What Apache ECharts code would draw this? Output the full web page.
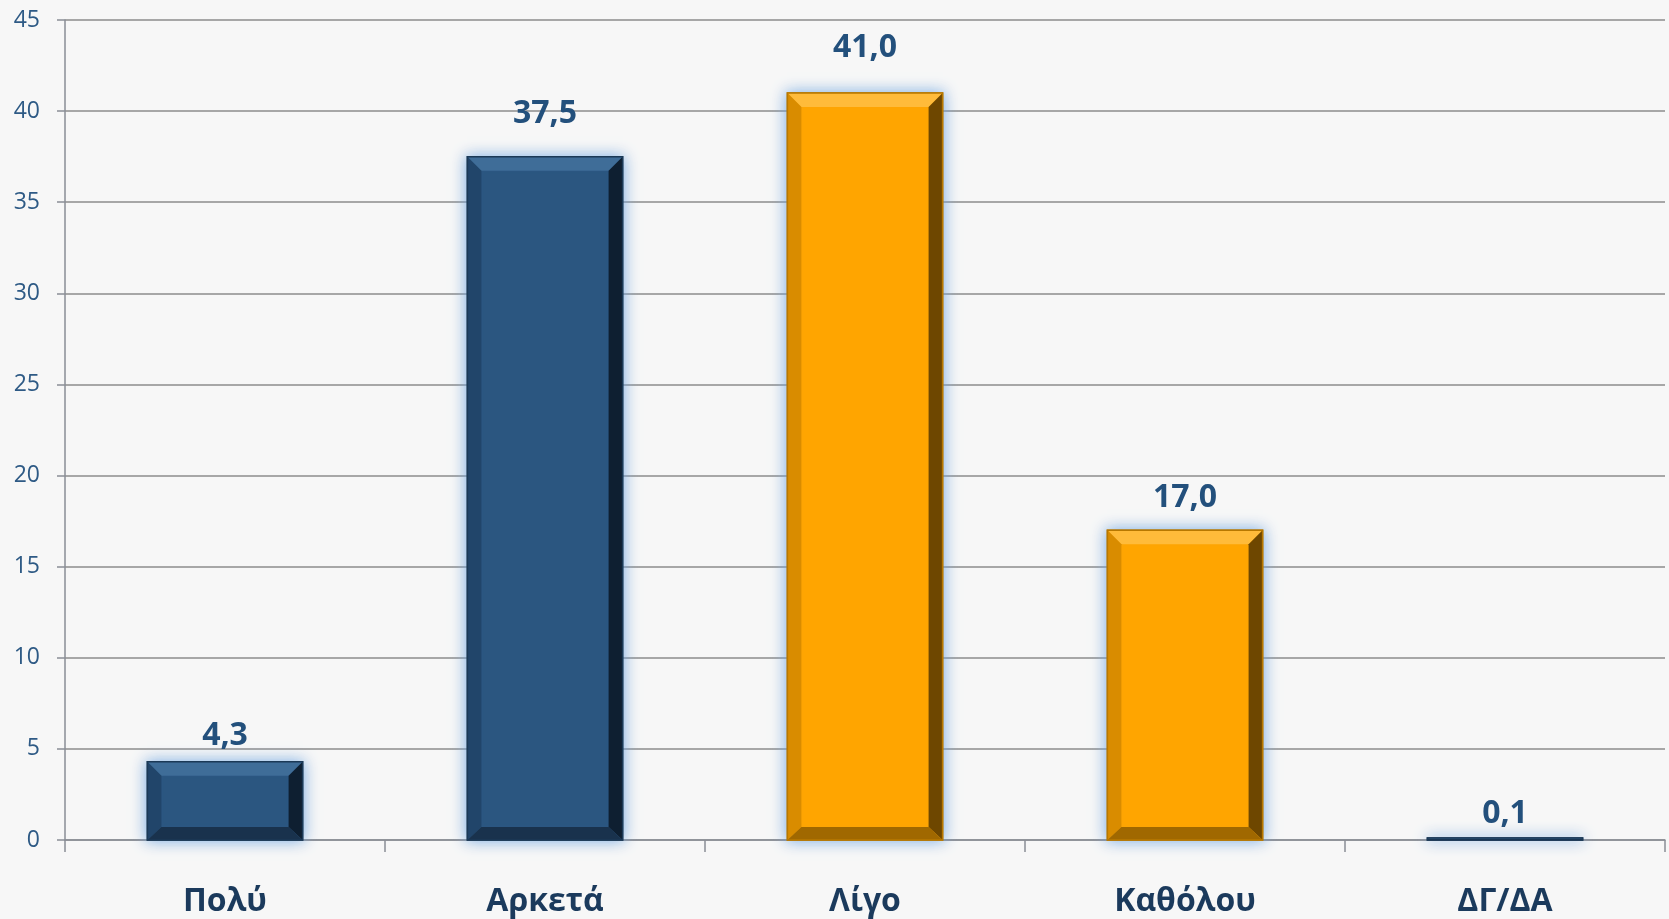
<!DOCTYPE html>
<html><head><meta charset="utf-8">
<script src="https://cdn.jsdelivr.net/npm/echarts@6/dist/echarts.min.js"></script>
<style>html,body{margin:0;padding:0;background:#f7f7f7}#c{width:1669px;height:919px}</style>
</head><body><div id="c"></div>
<script>
const categories = ['Πολύ', 'Αρκετά', 'Λίγο', 'Καθόλου', 'ΔΓ/ΔΑ'];
const values = [4.3, 37.5, 41.0, 17.0, 0.1];
const colorGroup = ['blue', 'blue', 'orange', 'orange', 'blue'];
const yTicks = [0, 45, 5];

const palettes = {
  blue:   {fill:'#2b5680', top:'#3f6d98', left:'#21456a', right:'#0e1f31', bottom:'#19324d', edge:'#1b3956', glow:'rgba(110,165,225,0.9)'},
  orange: {fill:'#ffa500', top:'#ffbb3a', left:'#d98c00', right:'#6e4700', bottom:'#a06800', edge:'#b87800', glow:'rgba(110,165,225,0.9)'}
};
const FONT = '"Open Sans","Noto Sans",sans-serif';

const chart = echarts.init(document.getElementById('c'), null, {renderer:'canvas'});
chart.setOption({
  backgroundColor:'#f7f7f7',
  animation:false,
  grid:{left:65, right:4, top:20, bottom:79, containLabel:false},
  xAxis:{type:'category', data:categories, boundaryGap:true,
    axisLine:{lineStyle:{color:'#8a8e96', width:1.5}},
    axisTick:{show:true, length:12, lineStyle:{color:'#8a8e96', width:1.5}},
    axisLabel:{fontFamily:FONT, fontSize:32, fontWeight:'bold', color:'#1b3a5c', margin:46}},
  yAxis:{type:'value', min:yTicks[0], max:yTicks[1], interval:yTicks[2],
    axisLine:{show:true, lineStyle:{color:'#8a8e96', width:1.5}},
    axisTick:{show:true, length:8, lineStyle:{color:'#8a8e96', width:1.5}},
    splitLine:{lineStyle:{color:'#8c8c8c', width:1.5}},
    axisLabel:{fontFamily:FONT, fontSize:23, color:'#2e5a85', margin:25}},
  series:[{
    type:'custom',
    data: values.map((v,i)=>[i,v]),
    renderItem:function(params, api){
      const idx = api.value(0), v = api.value(1);
      const p = palettes[colorGroup[idx]];
      const top = api.coord([idx, v]);
      const base = api.coord([idx, 0]);
      const band = api.size([1,0])[0];
      const w = band*0.485;
      const x0 = top[0]-w/2, x1 = top[0]+w/2;
      const y0 = top[1], y1 = base[1];
      const h = Math.max(y1-y0, 2);
      const yt = y1 - h;
      const b = Math.min(14, h/2), bb = Math.min(13, h/2);
      const off = 24 + 0.5*v;
      const children = [
        {type:'rect', shape:{x:x0, y:yt, width:w, height:h},
          style:{fill:p.fill, shadowBlur:14, shadowColor:p.glow, stroke:p.edge, lineWidth:1.5}},
        {type:'polygon', shape:{points:[[x0,yt],[x1,yt],[x1-b,yt+b],[x0+b,yt+b]]}, style:{fill:p.top}},
        {type:'polygon', shape:{points:[[x0,yt],[x0+b,yt+b],[x0+b,y1-bb],[x0,y1]]}, style:{fill:p.left}},
        {type:'polygon', shape:{points:[[x1,yt],[x1,y1],[x1-b,y1-bb],[x1-b,yt+b]]}, style:{fill:p.right}},
        {type:'polygon', shape:{points:[[x0,y1],[x1,y1],[x1-b,y1-bb],[x0+b,y1-bb]]}, style:{fill:p.bottom}},
        {type:'rect', shape:{x:x0, y:yt, width:w, height:h}, style:{fill:'none', stroke:p.edge, lineWidth:1.5}},
        {type:'text', x:top[0], y:yt-off,
          style:{text:v.toFixed(1).replace('.', ','), fill:'#23507c', font:'bold 32px '+FONT, align:'center', verticalAlign:'middle'}}
      ];
      return {type:'group', children:children};
    }
  }]
});
</script></body></html>
